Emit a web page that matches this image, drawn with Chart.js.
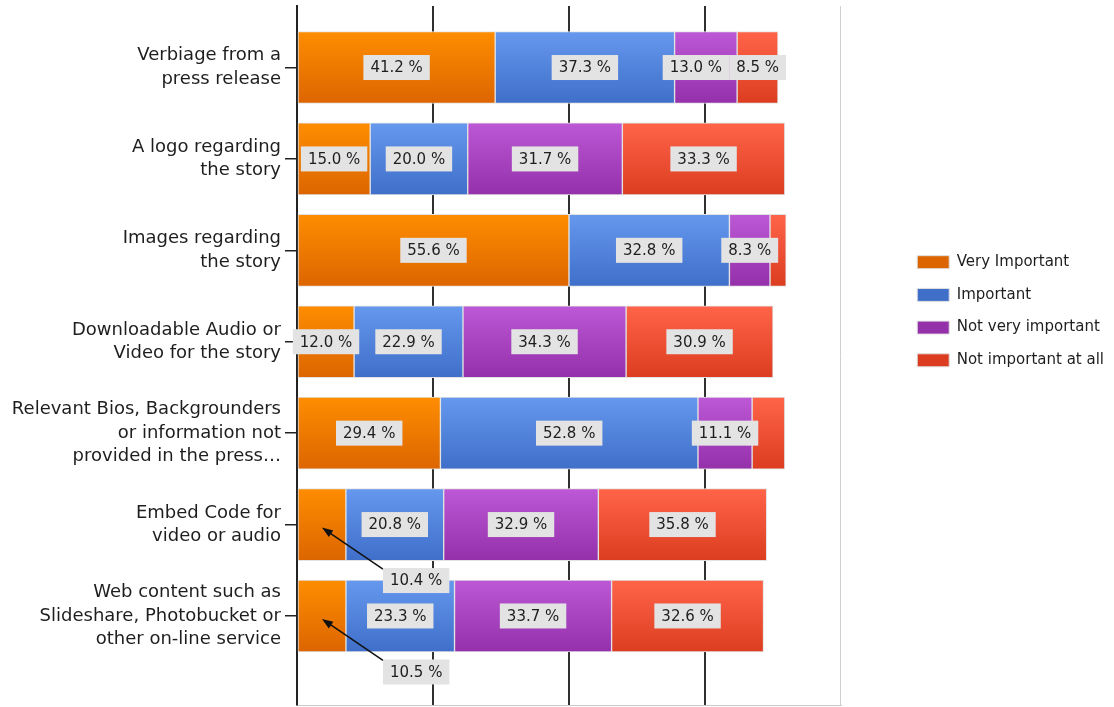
<!DOCTYPE html>
<html>
<head>
<meta charset="utf-8">
<script src="https://cdn.jsdelivr.net/npm/chart.js@4"></script>
<style>
  html, body { margin: 0; padding: 0; background: #fff; }
  #wrap { width: 1114px; height: 707px; position: relative; }
</style>
</head>
<body>
<div id="wrap"><canvas id="chart"></canvas></div>
<script>
// categories, one line of the axis label per string
const categories = [
  ['Verbiage from a', 'press release'],
  ['A logo regarding', 'the story'],
  ['Images regarding', 'the story'],
  ['Downloadable Audio or', 'Video for the story'],
  ['Relevant Bios, Backgrounders', 'or information not', 'provided in the press\u2026'],
  ['Embed Code for', 'video or audio'],
  ['Web content such as', 'Slideshare, Photobucket or', 'other on-line service']
];
const seriesNames = ['Very Important', 'Important', 'Not very important', 'Not important at all'];

// share of answers per row (%)
const veryImportant     = [41.2, 15.0, 55.6, 12.0, 29.4, 10.4, 10.5];
const important         = [37.3, 20.0, 32.8, 22.9, 52.8, 20.8, 23.3];
const notVeryImportant  = [13.0, 31.7,  8.3, 34.3, 11.1, 32.9, 33.7];
const notImportantAtAll = [ 8.5, 33.3,  3.3, 30.9,  6.7, 35.8, 32.6];

// answers per row (bar length)
const totals = [35.4, 35.9, 36.0, 35.0, 35.9, 34.6, 34.3];
const xMax = 40;
const xStep = 10;

// labels drawn below the bar with an arrow: [series, row]
const calloutLabels = [[0, 5], [0, 6]];
const minLabelPct = 7;

const FONT = '"DejaVu Sans", sans-serif';
// top, middle, bottom of each bar's gradient
const colors = [
  ['#ff8d00', '#ee7900', '#dc6500'],
  ['#6698ee', '#5284dc', '#3f6fc9'],
  ['#bd58d6', '#a944c0', '#9430aa'],
  ['#ff6449', '#ee5034', '#dc3d20']
];

// vertical gradient for each bar, light on top
function barFill(i) {
  return (c) => {
    const [top, mid, bottom] = colors[i];
    const yScale = c.chart.scales.y;
    if (c.type !== 'data' || !yScale) return mid;
    const cy = yScale.getPixelForValue(c.dataIndex);
    if (!isFinite(cy)) return mid;
    const g = c.chart.ctx.createLinearGradient(0, cy - 36, 0, cy + 36);
    g.addColorStop(0, top);
    g.addColorStop(1, bottom);
    return g;
  };
}

const seriesPct = [veryImportant, important, notVeryImportant, notImportantAtAll];
const datasets = seriesPct.map((pct, i) => ({
  label: seriesNames[i],
  data: pct.map((p, j) => ({ x: p * totals[j] / 100, y: j })),
  backgroundColor: barFill(i),
  borderColor: '#e2e2e2',
  borderWidth: 1,
  borderSkipped: false,
  barThickness: 72
}));

// gray boxes with the percentages
const segmentLabels = {
  id: 'segmentLabels',
  afterDatasetsDraw(chart) {
    const ctx = chart.ctx;
    ctx.save();
    ctx.font = '15px ' + FONT;
    ctx.textAlign = 'center';
    ctx.textBaseline = 'middle';
    categories.forEach((_, j) => {
      const boxes = [];
      seriesPct.forEach((pct, i) => {
        const v = pct[j];
        const bar = chart.getDatasetMeta(i).data[j];
        const { x, y, base } = bar.getProps(['x', 'y', 'base'], true);
        const cx = (x + base) / 2;
        const text = v.toFixed(1) + ' %';
        const w = ctx.measureText(text).width + 14;
        const h = 25;
        if (calloutLabels.some(([s, r]) => s === i && r === j)) {
          const bx = cx + 61;
          const by = y + 56 - h / 2;
          drawArrow(ctx, bx, by + 1, cx, y + 3);
          drawBox(ctx, bx, by, w, h, text);
          return;
        }
        if (v < minLabelPct) return;
        boxes.push({ x: cx - w / 2, y: y - h / 2, w, h, text });
      });
      // push a box left when the next one runs into it
      for (let k = 1; k < boxes.length; k++) {
        const prev = boxes[k - 1];
        if (boxes[k].x < prev.x + prev.w) prev.x = boxes[k].x - prev.w;
      }
      boxes.forEach(b => drawBox(ctx, b.x, b.y, b.w, b.h, b.text));
    });
    ctx.restore();
  }
};

function drawBox(ctx, x, y, w, h, text) {
  ctx.fillStyle = '#e3e3e3';
  ctx.fillRect(x, y, w, h);
  ctx.fillStyle = '#1e1e1e';
  ctx.fillText(text, x + w / 2, y + h / 2 + 1);
}

function drawArrow(ctx, x0, y0, x1, y1) {
  const a = Math.atan2(y1 - y0, x1 - x0);
  ctx.strokeStyle = '#111';
  ctx.fillStyle = '#111';
  ctx.lineWidth = 1.5;
  ctx.beginPath();
  ctx.moveTo(x0, y0);
  ctx.lineTo(x1 - 8 * Math.cos(a), y1 - 8 * Math.sin(a));
  ctx.stroke();
  ctx.beginPath();
  ctx.moveTo(x1, y1);
  ctx.lineTo(x1 - 11 * Math.cos(a) + 4 * Math.sin(a), y1 - 11 * Math.sin(a) - 4 * Math.cos(a));
  ctx.lineTo(x1 - 11 * Math.cos(a) - 4 * Math.sin(a), y1 - 11 * Math.sin(a) + 4 * Math.cos(a));
  ctx.closePath();
  ctx.fill();
}

const chart = new Chart(document.getElementById('chart'), {
  type: 'bar',
  data: { datasets },
  options: {
    indexAxis: 'y',
    responsive: true,
    maintainAspectRatio: false,
    animation: false,
    layout: { padding: { top: 6, bottom: 2 } },
    scales: {
      x: {
        type: 'linear',
        min: 0,
        max: xMax,
        stacked: true,
        ticks: { display: false, stepSize: xStep },
        grid: {
          drawTicks: false,
          color: c => c.tick.value === xMax ? '#cfcfcf' : '#303030',
          lineWidth: c => c.tick.value === xMax ? 1 : 2
        },
        border: { display: true, color: '#c8c8c8', width: 1 }
      },
      y: {
        type: 'linear',
        min: -0.673,
        max: 6.974,
        reverse: true,
        stacked: true,
        offset: false,
        afterFit: s => { s.width = 297; s.paddingTop = 0; s.paddingBottom = 0; },
        ticks: {
          stepSize: 1,
          includeBounds: false,
          autoSkip: false,
          padding: 4,
          color: '#1e1e1e',
          font: { family: FONT, size: 18, lineHeight: 1.3 },
          callback: v => categories[Math.round(v)]
        },
        grid: { offset: false, drawOnChartArea: false, drawTicks: true, tickLength: 12, color: '#222', lineWidth: 1.5 },
        border: { color: '#222', width: 2 }
      },
      // empty axis that keeps the gap between the plot and the legend
      y2: {
        type: 'linear',
        position: 'right',
        afterFit: s => { s.width = 59; s.paddingTop = 0; s.paddingBottom = 0; },
        ticks: { display: false },
        grid: { display: false },
        border: { display: false }
      }
    },
    plugins: {
      tooltip: { enabled: false },
      legend: {
        position: 'right',
        align: 'start',
        maxWidth: 240,
        title: { display: true, text: ' ', padding: { top: 213, bottom: 0 }, font: { family: FONT, size: 15 } },
        labels: {
          boxWidth: 32,
          boxHeight: 13,
          padding: 17.7,
          color: '#1e1e1e',
          font: { family: FONT, size: 15 }
        }
      }
    }
  },
  plugins: [segmentLabels]
});
chart.update();
</script>
</body>
</html>
